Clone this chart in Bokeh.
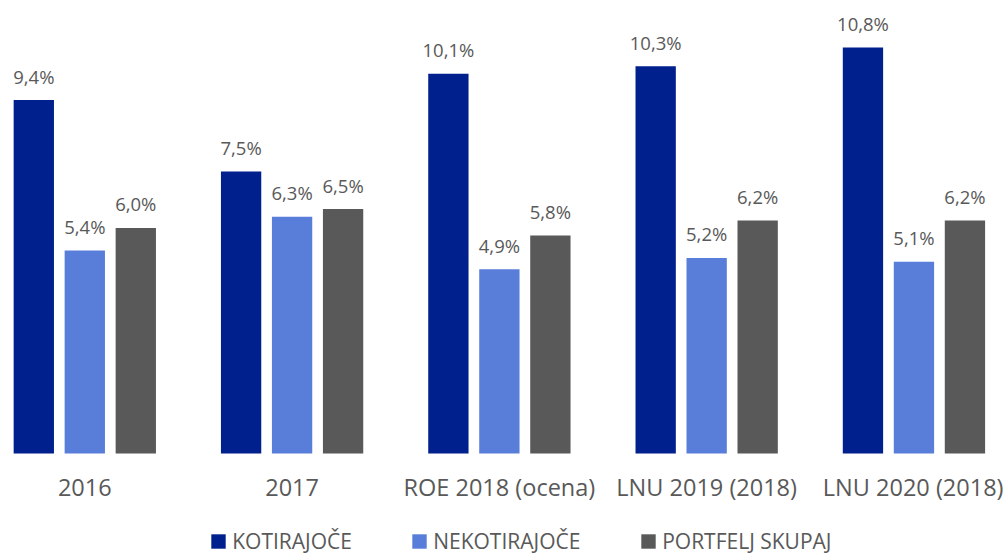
from bokeh.plotting import figure
from bokeh.models import ColumnDataSource, Range1d, FixedTicker, Legend, LegendItem
from bokeh.transform import dodge
from bokeh.core.properties import value
from bokeh.embed import file_html
from bokeh.resources import INLINE

categories = ["2016", "2017", "ROE 2018 (ocena)", "LNU 2019 (2018)", "LNU 2020 (2018)"]
kotirajoce = [9.4, 7.5, 10.1, 10.3, 10.8]
nekotirajoce = [5.4, 6.3, 4.9, 5.2, 5.1]
portfelj = [6.0, 6.5, 5.8, 6.2, 6.2]
series_names = ["KOTIRAJOČE", "NEKOTIRAJOČE", "PORTFELJ SKUPAJ"]
colors = ["#00208E", "#587ED9", "#595959"]

def fmt(v):
    return f"{v:.1f}%".replace(".", ",")

xs = list(range(len(categories)))
src = ColumnDataSource(dict(
    x=xs,
    k=kotirajoce, n=nekotirajoce, p=portfelj,
    kl=[fmt(v) for v in kotirajoce],
    nl=[fmt(v) for v in nekotirajoce],
    pl=[fmt(v) for v in portfelj],
))

FONT = "Open Sans"
TXT = "#595959"

p = figure(width=1003, height=554, output_backend="svg", toolbar_location=None,
           x_range=Range1d(-0.4067, 4.432), y_range=Range1d(-2.686, 12.048),
           min_border_left=0, min_border_right=0, min_border_top=0, min_border_bottom=0)
p.outline_line_color = None
p.xgrid.grid_line_color = None
p.ygrid.grid_line_color = None
p.yaxis.visible = False
p.background_fill_color = "white"
p.border_fill_color = "white"

bw = 0.1945
off = 0.246
renderers = []
for col, lab, d, c in [("k", "kl", -off, colors[0]), ("n", "nl", 0.0, colors[1]), ("p", "pl", off, colors[2])]:
    r = p.vbar(x=dodge("x", d, range=p.x_range), top=col, width=bw, bottom=0,
               source=src, fill_color=c, line_color=None)
    renderers.append(r)
    p.text(x=dodge("x", d, range=p.x_range), y=col, text=lab, source=src,
           text_align="center", text_baseline="middle", y_offset=-24,
           text_font=value(FONT), text_font_size="18.5px", text_color=TXT)

ax = p.xaxis[0]
ax.fixed_location = 0
ax.ticker = FixedTicker(ticks=xs)
ax.major_label_overrides = {i: c for i, c in zip(xs, categories)}
ax.axis_line_color = None
ax.major_tick_line_color = None
ax.minor_tick_line_color = None
ax.major_label_text_font = FONT
ax.major_label_text_font_size = "23.5px"
ax.major_label_text_color = TXT
ax.major_label_standoff = 11

for name, r, lx in zip(series_names, renderers, [209.2, 410.2, 639.2]):
    leg = Legend(items=[LegendItem(label=name, renderers=[r])], location=(lx, -1),
                 padding=0, margin=0, glyph_width=18, glyph_height=18, label_standoff=5,
                 border_line_color=None, background_fill_alpha=0,
                 label_text_font=FONT, label_text_font_size="21px", label_text_color=TXT)
    p.add_layout(leg, "center")

open("out.html", "w").write(file_html(p, INLINE))
